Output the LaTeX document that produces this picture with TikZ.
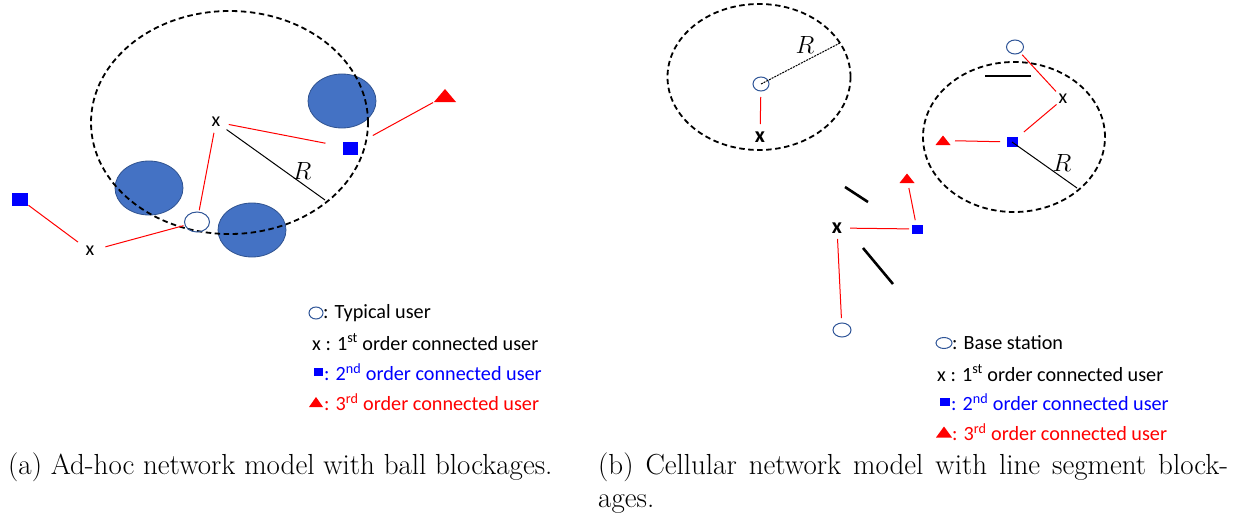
\documentclass[tikz,border=0pt]{standalone}
\usepackage{fontspec}
\newfontfamily\legfont{Carlito}
\usetikzlibrary{shapes.geometric}
\definecolor{ballfill}{HTML}{4472C4}
\definecolor{balledge}{HTML}{2F528F}
\definecolor{usredge}{HTML}{2F5597}
\definecolor{sqblue}{HTML}{0000FF}
\definecolor{trired}{HTML}{FF0000}
\begin{document}
\begin{tikzpicture}[x=1pt,y=-1pt,
  ball/.style={ellipse, minimum width=68pt, minimum height=54pt, inner sep=0pt, fill=ballfill, draw=balledge, line width=0.8pt},
  rangec/.style={ellipse, inner sep=0pt, draw=black, line width=1.8pt, dash pattern=on 5.5pt off 3.5pt},
  usr/.style={ellipse, inner sep=0pt, draw=usredge, line width=1pt},
  sq/.style={rectangle, inner sep=0pt, fill=sqblue},
  link/.style={draw=trired, line width=1pt},
  rad/.style={draw=black, line width=1pt},
  radd/.style={draw=black, line width=1pt, dash pattern=on 2pt off 1pt},
  blk/.style={draw=black, line width=2.6pt},
  xm/.style={font=\legfont\fontsize{20}{20}\selectfont, inner sep=0pt},
  xmb/.style={font=\legfont\bfseries\fontsize{22}{22}\selectfont, inner sep=0pt},
  leg/.style={font=\legfont\fontsize{20.2}{22}\selectfont, anchor=west, inner sep=0pt},
  rlab/.style={font=\fontsize{29}{29}\selectfont, inner sep=0pt},
  captxt/.style={font=\fontsize{29}{34}\selectfont, inner sep=0pt}
]
\useasboundingbox (0,0) rectangle (1248,519);

% ================= (a) ad-hoc =================
\node[ball] (b1) at (342,101) {};
\node[ball] (b2) at (149,188) {};
\node[ball] (b3) at (252,230) {};
\node[rangec, minimum width=277pt, minimum height=223pt] (ra) at (229.5,122.5) {};
\node[usr, minimum width=25pt, minimum height=20pt] (u0) at (197,222) {};
\node[xm] (x1) at (216,122) {x};
\node[xm] (x2) at (90,251) {x};
\node[sq, minimum width=15pt, minimum height=13pt] (s1) at (350,148) {};
\node[sq, minimum width=16pt, minimum height=13pt] (s2) at (20,199) {};
\coordinate (t1) at (445,96);
\fill[trired] (t1) ++(0,-7) -- ++(11,13) -- ++(-22,0) -- cycle;
\coordinate (rA) at (325,200);

\draw[link, shorten <=13pt, shorten >=25pt] (x1.center) -- (s1.center);
\draw[link, shorten <=11pt, shorten >=12pt] (x1.center) -- (u0.center);
\draw[link, shorten <=26pt, shorten >=13.6pt] (s1.center) -- (t1);
\draw[link, shorten <=10.6pt, shorten >=15pt] (s2.center) -- (x2.center);
\draw[link, shorten <=16pt, shorten >=14pt] (x2.center) -- (u0.center);
\draw[rad, shorten <=13pt] (x1.center) -- (rA);
\node[rlab] (Ra) at (302,171) {$R$};

% legend (a)
\node[usr, minimum width=14pt, minimum height=12pt] (la1) at (316,313) {};
\node[leg] (lta1) at (323,313) {: Typical user};
\node[leg] (lta2) at (312,342) {x : 1\textsuperscript{st} order connected user};
\node[sq, minimum width=9pt, minimum height=8pt] (la3) at (318,372) {};
\node[leg, text=sqblue] (lta3) at (324,372) {: 2\textsuperscript{nd} order connected user};
\coordinate (la4) at (316,402);
\fill[trired] (la4) ++(0,-5) -- ++(7,10) -- ++(-14,0) -- cycle;
\node[leg, text=trired] (lta4) at (324,402) {: 3\textsuperscript{rd} order connected user};

% ================= (b) cellular =================
\node[rangec, minimum width=183pt, minimum height=146pt] (rb1) at (759,77) {};
\node[usr, minimum width=16pt, minimum height=14pt] (bs1) at (761,84) {};
\coordinate (rB1) at (840,43);
\draw[radd] (bs1.center) -- (rB1);
\node[rlab] (Rb1) at (805,45) {$R$};
\node[xmb] (x3) at (760,137) {x};
\draw[link, shorten <=13pt, shorten >=13pt] (bs1.center) -- (x3.center);

\node[rangec, minimum width=182pt, minimum height=150pt] (rb2) at (1014,137) {};
\node[usr, minimum width=17pt, minimum height=14pt] (bs2) at (1015,47) {};
\node[xm] (x4) at (1063,99) {x};
\node[sq, minimum width=11pt, minimum height=10pt] (s3) at (1012,142) {};
\coordinate (t2) at (943,140.5);
\fill[trired] (t2) ++(0,-5) -- ++(7.5,9.5) -- ++(-15,0) -- cycle;
\coordinate (rB2) at (1077,188);
\draw[link, shorten <=10.6pt, shorten >=10.3pt] (bs2.center) -- (x4.center);
\draw[link, shorten <=8.5pt, shorten >=15.6pt] (x4.center) -- (s3.center);
\draw[link, shorten <=12pt, shorten >=12pt] (s3.center) -- (t2);
\draw[rad] (s3.center) -- (rB2);
\node[rlab] (Rb2) at (1062,163) {$R$};
\coordinate (k1a) at (985,76);
\coordinate (k1b) at (1031,76);
\draw[blk] (k1a) -- (k1b);

% cluster below
\coordinate (t3) at (907,178.5);
\fill[trired] (t3) ++(0,-5) -- ++(7.5,9.5) -- ++(-15,0) -- cycle;
\node[sq, minimum width=11pt, minimum height=9pt] (s4) at (917,229) {};
\node[xmb] (x5) at (837,228) {x};
\node[usr, minimum width=18pt, minimum height=14pt] (bs3) at (842,330) {};
\draw[link, shorten <=9pt, shorten >=9.7pt] (s4.center) -- (t3);
\draw[link, shorten <=13pt, shorten >=8pt] (x5.center) -- (s4.center);
\draw[link, shorten <=11pt, shorten >=12pt] (x5.center) -- (bs3.center);
\coordinate (k2a) at (845,187);
\coordinate (k2b) at (868,202);
\coordinate (k3a) at (863,248);
\coordinate (k3b) at (893,284);
\draw[blk] (k2a) -- (k2b);
\draw[blk] (k3a) -- (k3b);

% legend (b)
\node[usr, minimum width=16pt, minimum height=11pt] (lb1) at (944,343) {};
\node[leg] (ltb1) at (952,343) {: Base station};
\node[leg] (ltb2) at (937,373) {x : 1\textsuperscript{st} order connected user};
\node[sq, minimum width=10pt, minimum height=8pt] (lb3) at (945,402) {};
\node[leg, text=sqblue] (ltb3) at (951,402) {: 2\textsuperscript{nd} order connected user};
\coordinate (lb4) at (944,432);
\fill[trired] (lb4) ++(0,-5.5) -- ++(8,11) -- ++(-16,0) -- cycle;
\node[leg, text=trired] (ltb4) at (952,432) {: 3\textsuperscript{rd} order connected user};

% captions
\node[captxt, anchor=base west] (capa) at (8,474) {(a) Ad-hoc network model with ball blockages.};
\node[captxt, anchor=base west] (capb1) at (598,474) {\makebox[630pt][s]{(b) Cellular network model with line segment block-}};
\node[captxt, anchor=base west] (capb2) at (598,507) {ages.};
\end{tikzpicture}
\end{document}
